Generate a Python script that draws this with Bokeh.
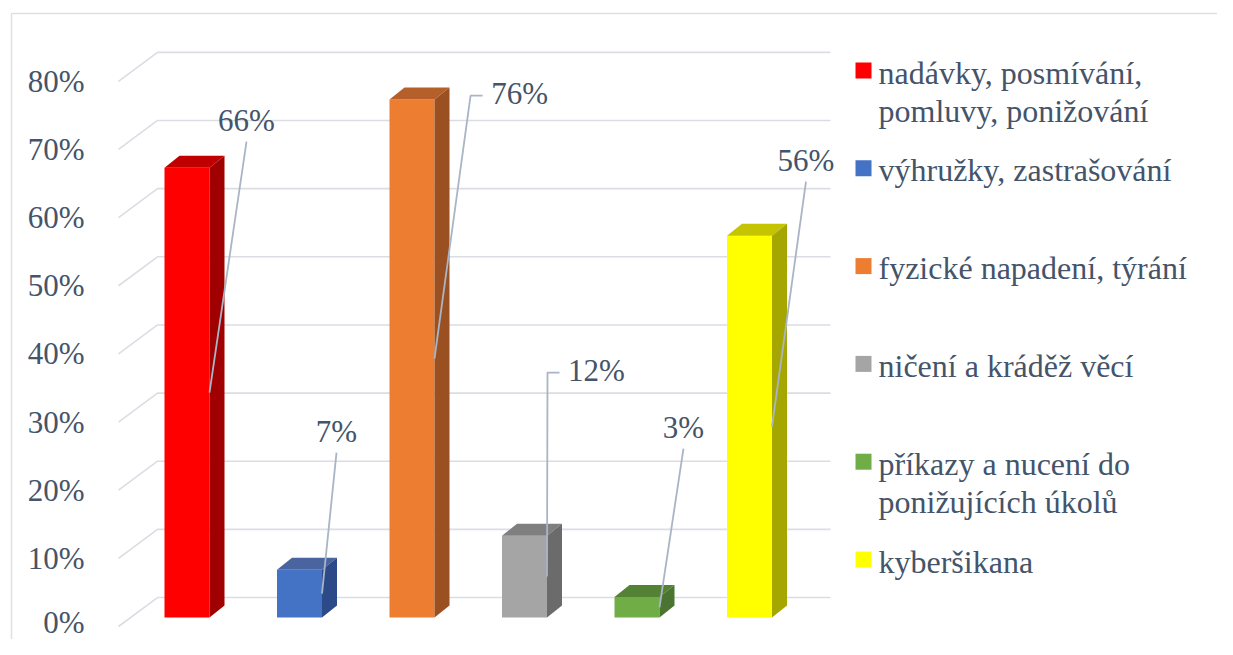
from bokeh.plotting import figure
from bokeh.models import Range1d, LinearAxis, FixedTicker
from bokeh.core.properties import value
from bokeh.embed import file_html
from bokeh.resources import INLINE

# ---------------- data ----------------
categories = [
    "nadávky, posmívání,\npomluvy, ponižování",
    "výhružky, zastrašování",
    "fyzické napadení, týrání",
    "ničení a kráděž věcí",
    "příkazy a nucení do\nponižujících úkolů",
    "kyberšikana",
]
values = [66, 7, 76, 12, 3, 56]
value_labels = ["66%", "7%", "76%", "12%", "3%", "56%"]
tick_values = [0, 10, 20, 30, 40, 50, 60, 70, 80]
tick_labels = ["0%", "10%", "20%", "30%", "40%", "50%", "60%", "70%", "80%"]

# ---------------- styles ----------------
front_colors = ["#FF0000", "#4472C4", "#ED7D31", "#A5A5A5", "#70AD47", "#FFFF00"]
top_colors = ["#C00000", "#4A64A0", "#B5602A", "#7F7F7F", "#548235", "#C4C400"]
side_colors = ["#A00000", "#2C4A88", "#9A5020", "#6B6B6B", "#4A7430", "#A6A600"]
TEXT = "#44546A"
GRID = "#DADDE3"
LEADER = "#A9B5C6"
BORDER = "#DDE1E7"
FONT = "Liberation Serif"

W, H = 1217, 639
PX_X = 112.5     # px per category
PX_Y = 6.815     # px per percent
ORIGIN_X = 186.5 # px of first category centre
ORIGIN_Y = 617   # px of 0 %


def dx(px):
    return (px - ORIGIN_X) / PX_X


def dy(py):
    return (ORIGIN_Y - py) / PX_Y


X_START, X_END = dx(0), dx(W)
Y_START, Y_END = dy(H), dy(0)

HALF = 0.2                 # half bar width (category units)
DEPTH_X = 15 / PX_X        # 3D depth offset
DEPTH_Y = 12 / PX_Y
WALL_X0, WALL_X1, WALL_X2 = dx(118), dx(157), dx(830)
WALL_DY0, WALL_DY1 = -1.32, 2.93

label_pos = [(0.529, 72.93), (1.329, 27.29), (2.956, 76.89),
             (3.640, 36.24), (4.413, 27.88), (5.502, 67.06)]
leader_kind = ["below", "below", "left", "left", "below", "below"]

p = figure(width=W, height=H, output_backend="svg", toolbar_location=None,
           x_range=Range1d(X_START, X_END), y_range=Range1d(Y_START, Y_END),
           x_axis_location=None, y_axis_location=None,
           min_border=0, outline_line_color=None,
           background_fill_color="white", border_fill_color="white")
p.grid.visible = False

p.extra_y_ranges = {"wall": Range1d(Y_START - WALL_DY0, Y_END - WALL_DY0)}
ax = LinearAxis(y_range_name="wall", ticker=FixedTicker(ticks=tick_values),
                fixed_location=WALL_X0,
                major_label_overrides={t: l for t, l in zip(tick_values, tick_labels)},
                axis_line_color=None, major_tick_line_color=None,
                minor_tick_line_color=None, major_label_standoff=28,
                major_label_text_font=FONT, major_label_text_font_size="31px",
                major_label_text_color=TEXT)
p.add_layout(ax, "left")

# chart border (top & left, the rest is cropped)
BX, BY = dx(11), dy(13)
p.line(x=[BX, BX, X_END + 1], y=[Y_START - 1, BY, BY], line_color=BORDER, line_width=1.5)

# wall gridlines (perspective)
p.multi_line(xs=[[WALL_X0, WALL_X1, WALL_X2] for _ in tick_values],
             ys=[[t + WALL_DY0, t + WALL_DY1, t + WALL_DY1] for t in tick_values],
             line_color=GRID, line_width=1.6)

# 3D bars
xs = list(range(len(values)))
p.quad(left=[x - HALF for x in xs], right=[x + HALF for x in xs],
       bottom=[0] * len(values), top=values, fill_color=front_colors, line_color=None)
p.patches(xs=[[x - HALF, x + HALF, x + HALF + DEPTH_X, x - HALF + DEPTH_X] for x in xs],
          ys=[[v, v, v + DEPTH_Y, v + DEPTH_Y] for v in values],
          fill_color=top_colors, line_color=None)
p.patches(xs=[[x + HALF, x + HALF + DEPTH_X, x + HALF + DEPTH_X, x + HALF] for x in xs],
          ys=[[0, DEPTH_Y, v + DEPTH_Y, v] for v in values],
          fill_color=side_colors, line_color=None)

# leader lines
lx_list, ly_list = [], []
for x, v, (lx, ly), kind in zip(xs, values, label_pos, leader_kind):
    end = (x + HALF, v / 2)
    if kind == "below":
        pts = [(lx, ly - 3.1), end]
    else:
        sx = lx - 37 / PX_X
        pts = [(sx, ly - 0.3), (sx - 12 / PX_X, ly - 0.3), end]
    lx_list.append([q[0] for q in pts])
    ly_list.append([q[1] for q in pts])
p.multi_line(xs=lx_list, ys=ly_list, line_color=LEADER, line_width=1.8)

# data labels
p.text(x=[q[0] for q in label_pos], y=[q[1] for q in label_pos], text=value_labels,
       text_font=value(FONT), text_font_size=value("31px"), text_color=TEXT,
       text_align="center", text_baseline="middle")

# legend (manual)
LEG_X = dx(863)
LEG_TX = dx(878)
LEG_Y0 = dy(70)
LEG_STEP = 97.8 / PX_Y
LINE_STEP = 38.5 / PX_Y
p.scatter(x=[LEG_X] * len(categories), y=[LEG_Y0 - k * LEG_STEP for k in range(len(categories))],
          marker="square", size=16, fill_color=front_colors, line_color=None)
tx, ty, tt = [], [], []
for k, c in enumerate(categories):
    for j, line in enumerate(c.split("\n")):
        tx.append(LEG_TX)
        ty.append(LEG_Y0 - k * LEG_STEP - j * LINE_STEP - 0.3)
        tt.append(line)
p.text(x=tx, y=ty, text=tt, text_font=value(FONT), text_font_size=value("32px"),
       text_color=TEXT, text_align="left", text_baseline="middle")

open("out.html", "w").write(file_html(p, INLINE))
